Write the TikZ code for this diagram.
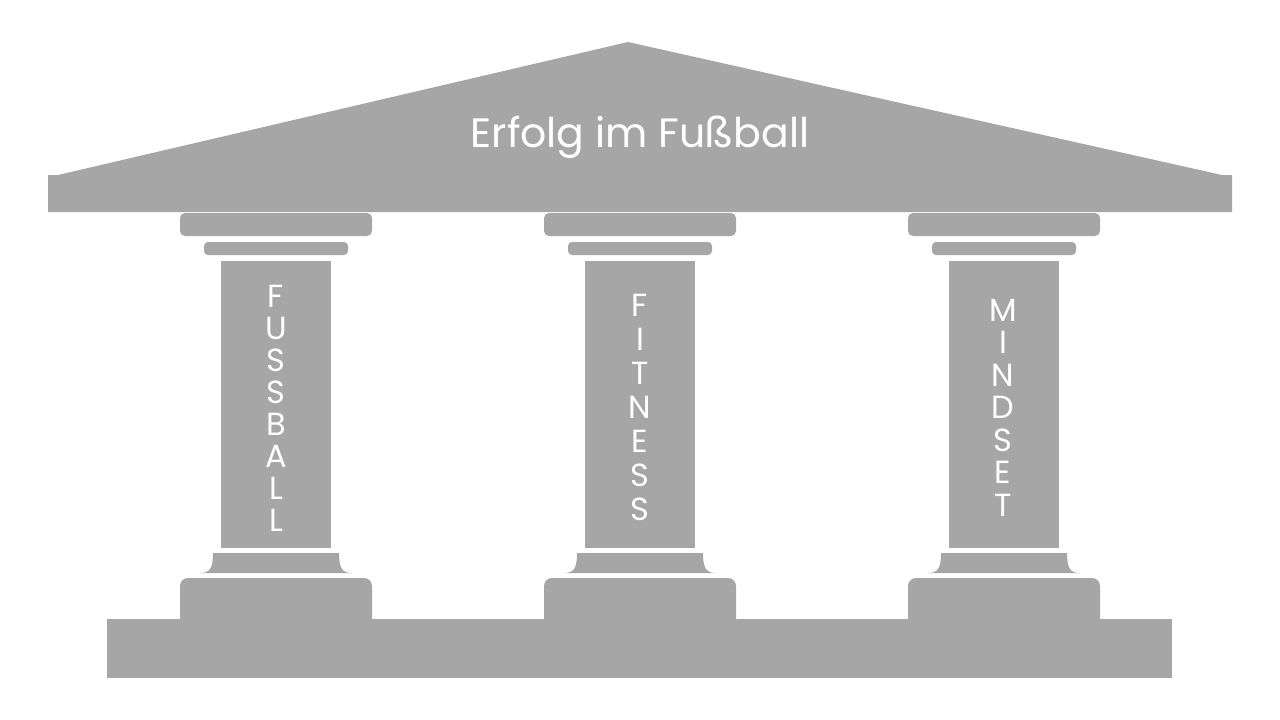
\documentclass[tikz,border=0pt]{standalone}
\usepackage{fontspec}
\setmainfont{Poppins}
\definecolor{stone}{RGB}{166,166,166}
\tikzset{
  stonefill/.style={fill=stone, draw=none},
  title/.style={text=white, font=\fontsize{41}{45}\selectfont, inner sep=0pt, anchor=base},
  letter/.style={text=white, font=\fontsize{32}{34}\selectfont, inner sep=0pt, anchor=base},
}
\begin{document}
\begin{tikzpicture}[x=1pt,y=-1pt]
\useasboundingbox (0,0) rectangle (1280,720);
% roof
\fill[stonefill] (48,175) -- (58,175) -- (628,42) -- (1222,175) -- (1232,175) -- (1232,212) -- (48,212) -- cycle;
\node[title] (roof) at (640,147) {Erfolg im Fußball};
% floor
\fill[stonefill] (107,619) rectangle (1172,678);
% pillars
\foreach \cx in {276,640,1004}{
  \fill[stonefill, rounded corners=5] (\cx-96,213) rectangle (\cx+96,236);
  \fill[stonefill, rounded corners=4] (\cx-72,242) rectangle (\cx+72,255);
  \fill[stonefill] (\cx-55,261) rectangle (\cx+55,548);
  \fill[stonefill] (\cx-63,553) -- (\cx+63,553) .. controls (\cx+63,568) and (\cx+66,573) .. (\cx+76,573)
     -- (\cx-76,573) .. controls (\cx-66,573) and (\cx-63,568) .. (\cx-63,553) -- cycle;
  \fill[stonefill, rounded corners=8] (\cx-96,630) rectangle (\cx+96,578);
}
% pillar texts
\foreach \w [count=\i] in {F,U,S,S,B,A,L,L}
  \node[letter] (fb\i) at (276,{307+32*(\i-1)}) {\w};
\foreach \w [count=\i] in {F,I,T,N,E,S,S}
  \node[letter] (fi\i) at (640,{316+34*(\i-1)}) {\w};
\foreach \w [count=\i] in {M,I,N,D,S,E,T}
  \node[letter] (mi\i) at (1003,{321+32.5*(\i-1)}) {\w};
\end{tikzpicture}
\end{document}
